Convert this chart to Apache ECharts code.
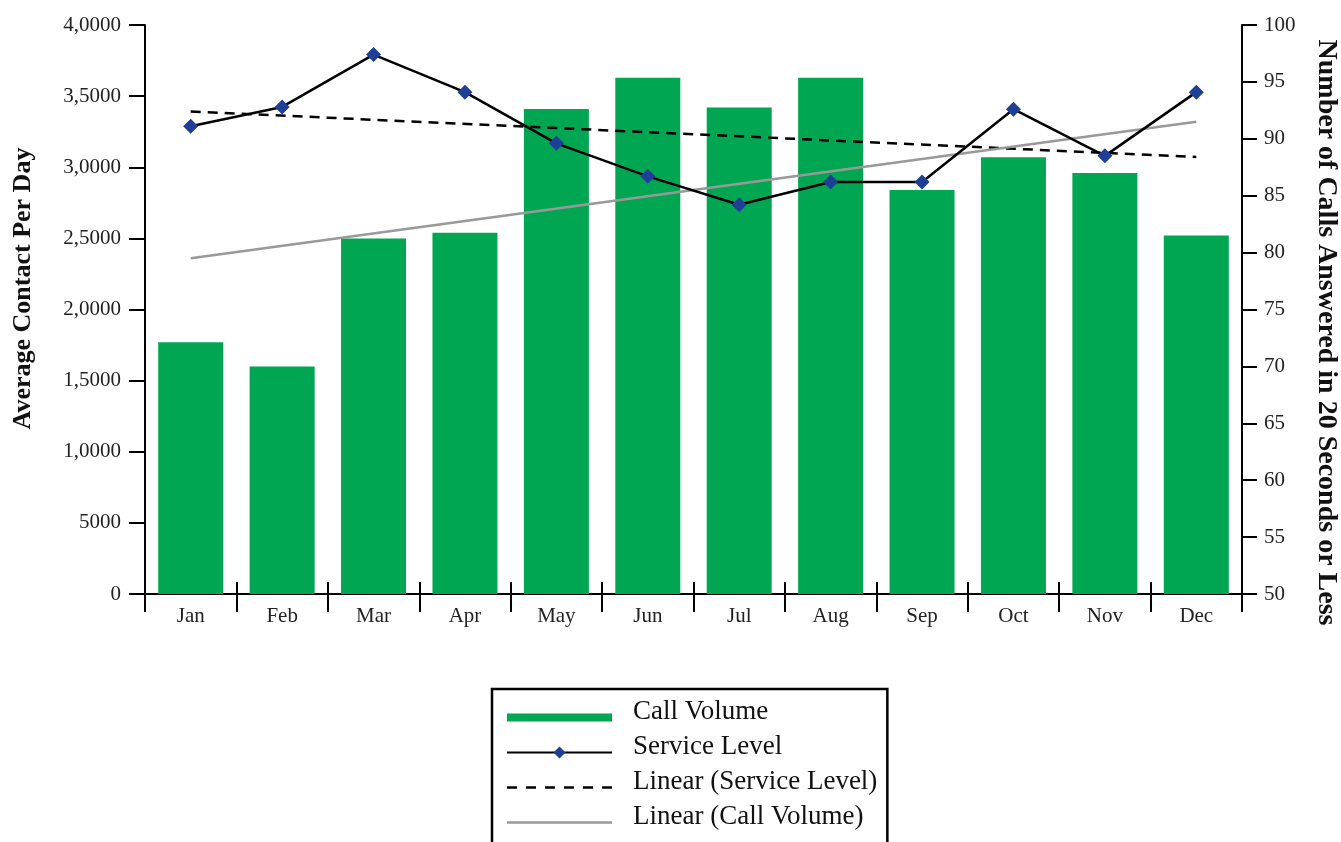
<!DOCTYPE html>
<html>
<head>
<meta charset="utf-8">
<script src="https://cdn.jsdelivr.net/npm/echarts@6/dist/echarts.min.js"></script>
<style>
html,body{margin:0;padding:0;background:#fff;}
#c{width:1341px;height:842px;}
</style>
</head>
<body>
<div id="c"></div>
<script>
var months = ['Jan','Feb','Mar','Apr','May','Jun','Jul','Aug','Sep','Oct','Nov','Dec'];
var callVolume = [17700, 16000, 25000, 25400, 34100, 36300, 34200, 36300, 28400, 30700, 29600, 25200];
var serviceLevel = [91.1, 92.8, 97.4, 94.1, 89.6, 86.7, 84.2, 86.2, 86.2, 92.6, 88.5, 94.1];
var serviceTrendEnds = [92.4, 88.4];
var callTrendEnds = [23600, 33200];
var leftTickLabels = ['0','5000','1,0000','1,5000','2,0000','2,5000','3,0000','3,5000','4,0000'];
var rightTickLabels = ['50','55','60','65','70','75','80','85','90','95','100'];

function endsToSeries(ends){
  var arr = months.map(function(){return null;});
  arr[0] = ends[0];
  arr[arr.length-1] = ends[1];
  return arr;
}

var FONT = 'Liberation Serif';
var dashIcon = 'path://M0,0h10v2.5h-10Z M19,0h10v2.5h-10Z M38,0h10v2.5h-10Z M57,0h10v2.5h-10Z M76,0h10v2.5h-10Z M95,0h10v2.5h-10Z';
var chart = echarts.init(document.getElementById('c'), null, {renderer:'canvas'});
chart.setOption({
  animation:false,
  backgroundColor:'#fff',
  textStyle:{fontFamily:FONT},
  grid:{left:145, right:99, top:25, bottom:248, outerBoundsMode:'none', containLabel:false},
  legend:{
    orient:'vertical',
    left:492, top:689, height:220,
    padding:[9,10,14,14],
    borderColor:'#000', borderWidth:2.5,
    itemWidth:105, itemHeight:15, itemGap:-2.5,
    formatter:function(name){return '{t|'+name+'}\n{s| }';},
    textStyle:{fontFamily:FONT, color:'#111',
      rich:{
        t:{fontFamily:FONT, fontSize:27, lineHeight:28, color:'#111', padding:[0,0,0,16]},
        s:{fontSize:8, lineHeight:12}
      }},
    data:[
      {name:'Call Volume', icon:'path://M0,0H105V8H0Z'},
      {name:'Service Level'},
      {name:'Linear (Service Level)', icon:dashIcon, itemStyle:{color:'#000'}},
      {name:'Linear (Call Volume)', icon:'path://M0,0H105V2.5H0Z', itemStyle:{color:'#999'}}
    ]
  },
  xAxis:[{
    type:'category', data:months, position:'bottom',
    axisLine:{show:true, lineStyle:{color:'#000', width:2}},
    axisTick:{show:true, length:18, lineStyle:{color:'#000', width:2}},
    axisLabel:{fontFamily:FONT, fontSize:21, color:'#222', margin:12}
  },{
    type:'category', data:months, position:'bottom', gridIndex:0,
    axisLine:{show:false},
    axisTick:{show:true, inside:true, length:12, lineStyle:{color:'#000', width:2}},
    axisLabel:{show:false}
  }],
  yAxis:[{
    type:'value', min:0, max:40000, interval:5000, position:'left',
    name:'Average Contact Per Day', nameLocation:'middle', nameGap:109,
    nameTextStyle:{fontFamily:FONT, fontSize:26, fontWeight:'bold', color:'#111', padding:[0,0,0,42]},
    axisLine:{show:true, lineStyle:{color:'#000', width:2}},
    axisTick:{show:true, length:16, lineStyle:{color:'#000', width:2}},
    splitLine:{show:false},
    axisLabel:{fontFamily:FONT, fontSize:21, color:'#222', margin:24,
      formatter:function(v){return leftTickLabels[Math.round(v/5000)];}}
  },{
    type:'value', min:50, max:100, interval:5, position:'right',
    name:'Number of Calls Answered in 20 Seconds or Less', nameLocation:'middle', nameGap:70, nameRotate:-90,
    nameTextStyle:{fontFamily:FONT, fontSize:28, fontWeight:'bold', color:'#111', padding:[0,0,0,46]},
    axisLine:{show:true, lineStyle:{color:'#000', width:2}},
    axisTick:{show:true, length:15, lineStyle:{color:'#000', width:2}},
    splitLine:{show:false},
    axisLabel:{fontFamily:FONT, fontSize:21, color:'#222', margin:22,
      formatter:function(v){return rightTickLabels[Math.round((v-50)/5)];}}
  }],
  series:[{
    name:'Call Volume', type:'bar', data:callVolume, xAxisIndex:0, yAxisIndex:0,
    barWidth:65, itemStyle:{color:'#00a651'}, z:2
  },{
    name:'Service Level', type:'line', data:serviceLevel, xAxisIndex:0, yAxisIndex:1,
    symbol:'diamond', symbolSize:15,
    lineStyle:{color:'#000', width:2.5},
    itemStyle:{color:'#1f3f96'}, z:6
  },{
    name:'Linear (Service Level)', type:'line', data:endsToSeries(serviceTrendEnds), xAxisIndex:0, yAxisIndex:1,
    connectNulls:true, symbol:'none',
    lineStyle:{color:'#000', width:2.5, type:[10,7]},
    itemStyle:{color:'#000'}, z:4
  },{
    name:'Linear (Call Volume)', type:'line', data:endsToSeries(callTrendEnds), xAxisIndex:0, yAxisIndex:0,
    connectNulls:true, symbol:'none',
    lineStyle:{color:'#999', width:2.5},
    itemStyle:{color:'#999'}, z:4
  }]
});
</script>
</body>
</html>
